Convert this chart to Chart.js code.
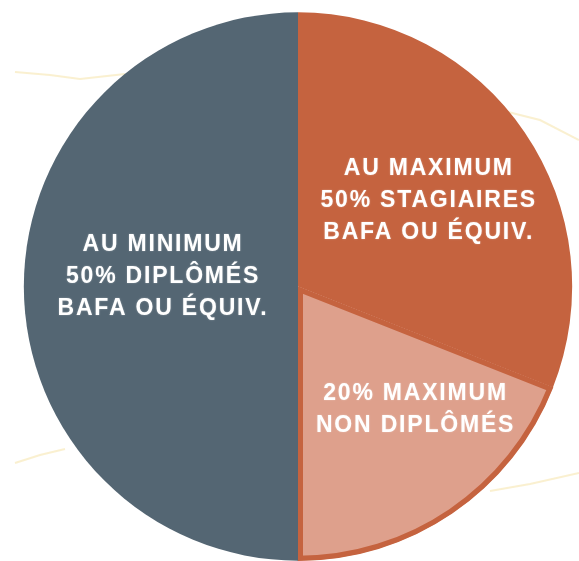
<!DOCTYPE html>
<html>
<head>
<meta charset="utf-8">
<script src="https://cdn.jsdelivr.net/npm/chart.js@4"></script>
<style>
    html, body { margin: 0; padding: 0; background: #ffffff; }
    #wrap { width: 579px; height: 561px; position: relative; }
</style>
</head>
<body>
<div id="wrap"><canvas id="pieChart"></canvas></div>
<script>
// slices, clockwise from the top
const categories = [
    ["AU MAXIMUM", "50% STAGIAIRES", "BAFA OU ÉQUIV."],
    ["20% MAXIMUM", "NON DIPLÔMÉS"],
    ["AU MINIMUM", "50% DIPLÔMÉS", "BAFA OU ÉQUIV."]
];
const shares = [31, 19, 50];
const sliceColors = ["#C5633F", "#DEA08C", "#546673"];

// label anchors, as fractions of the radius from the centre
const labelAnchors = [[0.473, -0.313], [0.425, 0.447], [-0.495, -0.036]];

// faint decorative strokes behind the pie
const backdrop = {
    id: "backdrop",
    beforeDatasetsDraw(chart) {
        const c = chart.ctx;
        c.save();
        c.strokeStyle = "rgba(245, 228, 170, 0.55)";
        c.lineWidth = 2;
        const strokes = [
            [[15, 72], [50, 75], [80, 79], [125, 74]],
            [[500, 110], [540, 120], [579, 140]],
            [[15, 463], [40, 455], [65, 449]],
            [[490, 491], [530, 484], [579, 473]]
        ];
        strokes.forEach(s => {
            c.beginPath();
            c.moveTo(s[0][0], s[0][1]);
            s.slice(1).forEach(p => c.lineTo(p[0], p[1]));
            c.stroke();
        });
        c.restore();
    }
};

const sliceLabels = {
    id: "sliceLabels",
    afterDatasetsDraw(chart) {
        const c = chart.ctx;
        const arcs = chart.getDatasetMeta(0).data;
        const spacing = 1.8;
        c.save();
        c.fillStyle = "#ffffff";
        c.font = "bold 23px 'Liberation Sans', Arial, sans-serif";
        c.letterSpacing = spacing + "px";
        c.textAlign = "center";
        c.textBaseline = "middle";
        c.shadowColor = "rgba(255,255,255,0.35)";
        c.shadowBlur = 2;
        arcs.forEach((arc, i) => {
            const r = arc.outerRadius;
            const cx = arc.x + labelAnchors[i][0] * r + spacing / 2;
            const cy = arc.y + labelAnchors[i][1] * r;
            const lines = categories[i];
            const lh = 32;
            lines.forEach((t, j) => {
                c.fillText(t, cx, cy + (j - (lines.length - 1) / 2) * lh);
            });
        });
        c.restore();
    }
};

const pieCtx = document.getElementById("pieChart");

new Chart(pieCtx, {
    type: "pie",
    data: {
        labels: categories.map(l => l.join(" ")),
        datasets: [{
            data: shares,
            backgroundColor: sliceColors,
            borderColor: ["#C5633F", "#C5633F", "#546673"],
            borderWidth: [0, 5, 0],
            borderAlign: "inner"
        }]
    },
    options: {
        responsive: true,
        maintainAspectRatio: false,
        animation: false,
        layout: {
            padding: { left: 23, right: 6, top: 12, bottom: 0 }
        },
        plugins: {
            legend: { display: false },
            tooltip: { enabled: false }
        }
    },
    plugins: [backdrop, sliceLabels]
});
</script>
</body>
</html>
